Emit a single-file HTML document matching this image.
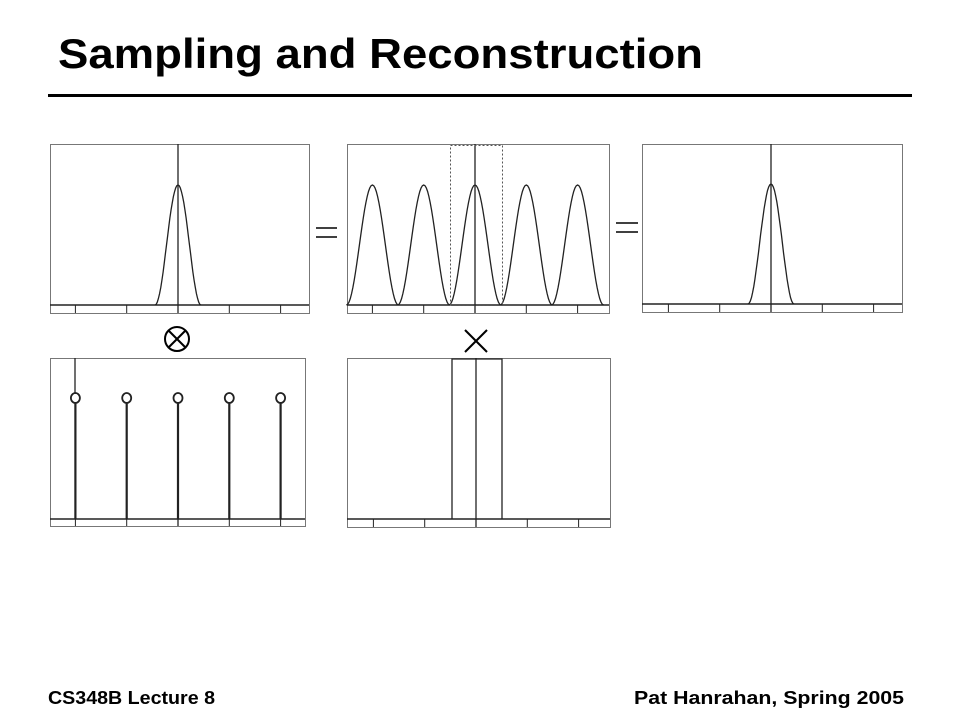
<!DOCTYPE html>
<html><head><meta charset="utf-8"><style>
body{margin:0;background:#fff;width:960px;height:720px;overflow:hidden}
svg{position:absolute;left:0;top:0}
</style></head><body>
<svg width="960" height="720" viewBox="0 0 960 720" xmlns="http://www.w3.org/2000/svg">
<text x="58" y="68" font-family="Liberation Sans, sans-serif" font-weight="bold" font-size="42" textLength="645" lengthAdjust="spacingAndGlyphs" fill="#000">Sampling and Reconstruction</text>
<rect x="48" y="94" width="864" height="3" fill="#000"/>
<g fill="none" stroke="#777" stroke-width="1">
<rect x="50.5" y="144.5" width="259" height="169"/>
<rect x="347.5" y="144.5" width="262" height="169"/>
<rect x="642.5" y="144.5" width="260" height="168"/>
<rect x="50.5" y="358.5" width="255" height="168"/>
<rect x="347.5" y="358.5" width="263" height="169"/>
</g>
<g id="plots" fill="none" stroke="#222" stroke-width="1.3"></g>
<g stroke="#000" stroke-width="2" fill="none">
<circle cx="177" cy="339" r="12"/>
<line x1="169" y1="331" x2="185" y2="347"/><line x1="185" y1="331" x2="169" y2="347"/>
<line x1="465" y1="330" x2="487" y2="352"/><line x1="487" y1="330" x2="465" y2="352"/>
<line x1="316" y1="228" x2="337" y2="228" stroke-width="1.5"/><line x1="316" y1="237" x2="337" y2="237" stroke-width="1.5"/>
<line x1="616" y1="223" x2="638" y2="223" stroke-width="1.5"/><line x1="616" y1="232" x2="638" y2="232" stroke-width="1.5"/>
</g>
<text x="48" y="704" font-family="Liberation Sans, sans-serif" font-weight="bold" font-size="18" textLength="167" lengthAdjust="spacingAndGlyphs">CS348B Lecture 8</text>
<text x="634" y="704" font-family="Liberation Sans, sans-serif" font-weight="bold" font-size="18" textLength="270" lengthAdjust="spacingAndGlyphs">Pat Hanrahan, Spring 2005</text>
</svg>
<script>
var g=document.getElementById('plots'),s='';
function L(x1,y1,x2,y2,w,c,extra){s+='<line x1="'+x1+'" y1="'+y1+'" x2="'+x2+'" y2="'+y2+'" stroke="'+(c||'#222')+'" stroke-width="'+(w||1.3)+'" '+(extra||'')+'/>';}
function axis(x0,x1,yb,ybot,cx,ytop){L(x0,yb,x1,yb,1.5);for(var k=-2;k<=2;k++){var x=cx+k*51.3;L(x,yb,x,ybot,1);}L(cx,ytop,cx,ybot,1.3);}
function bump(cx,yb,peak,hw){var d='';for(var i=0;i<=40;i++){var t=-1+i/20,x=cx+t*hw,y=yb-(yb-peak)*Math.pow(Math.cos(t*Math.PI/2),2);d+=(i?'L':'M')+x.toFixed(1)+' '+y.toFixed(1);}s+='<path d="'+d+'"/>';}
axis(50,309,305,313,178,144);bump(178,305,185,23);
axis(347,609,305,313,475,144);for(var k=-2;k<=2;k++)bump(475+k*51.3,305,185,26);
s+='<rect x="450.5" y="145.5" width="52" height="160" stroke="#555" stroke-dasharray="2,2" stroke-width="1"/>';
axis(642,902,304,312,771,144);bump(771,304,184,23);
axis(50,305,519,526,178,519);L(75,358,75,394,1.3);
for(var k=-2;k<=2;k++){var x=178+k*51.3;L(x,402,x,519,2.2);s+='<ellipse cx="'+x+'" cy="398" rx="4.5" ry="5" stroke-width="1.8"/>';}
axis(347,610,519,527,476,358);s+='<path d="M452 519 V359 H502 V519" stroke-width="1.3"/>';
g.innerHTML=s;
</script>
</body></html>
